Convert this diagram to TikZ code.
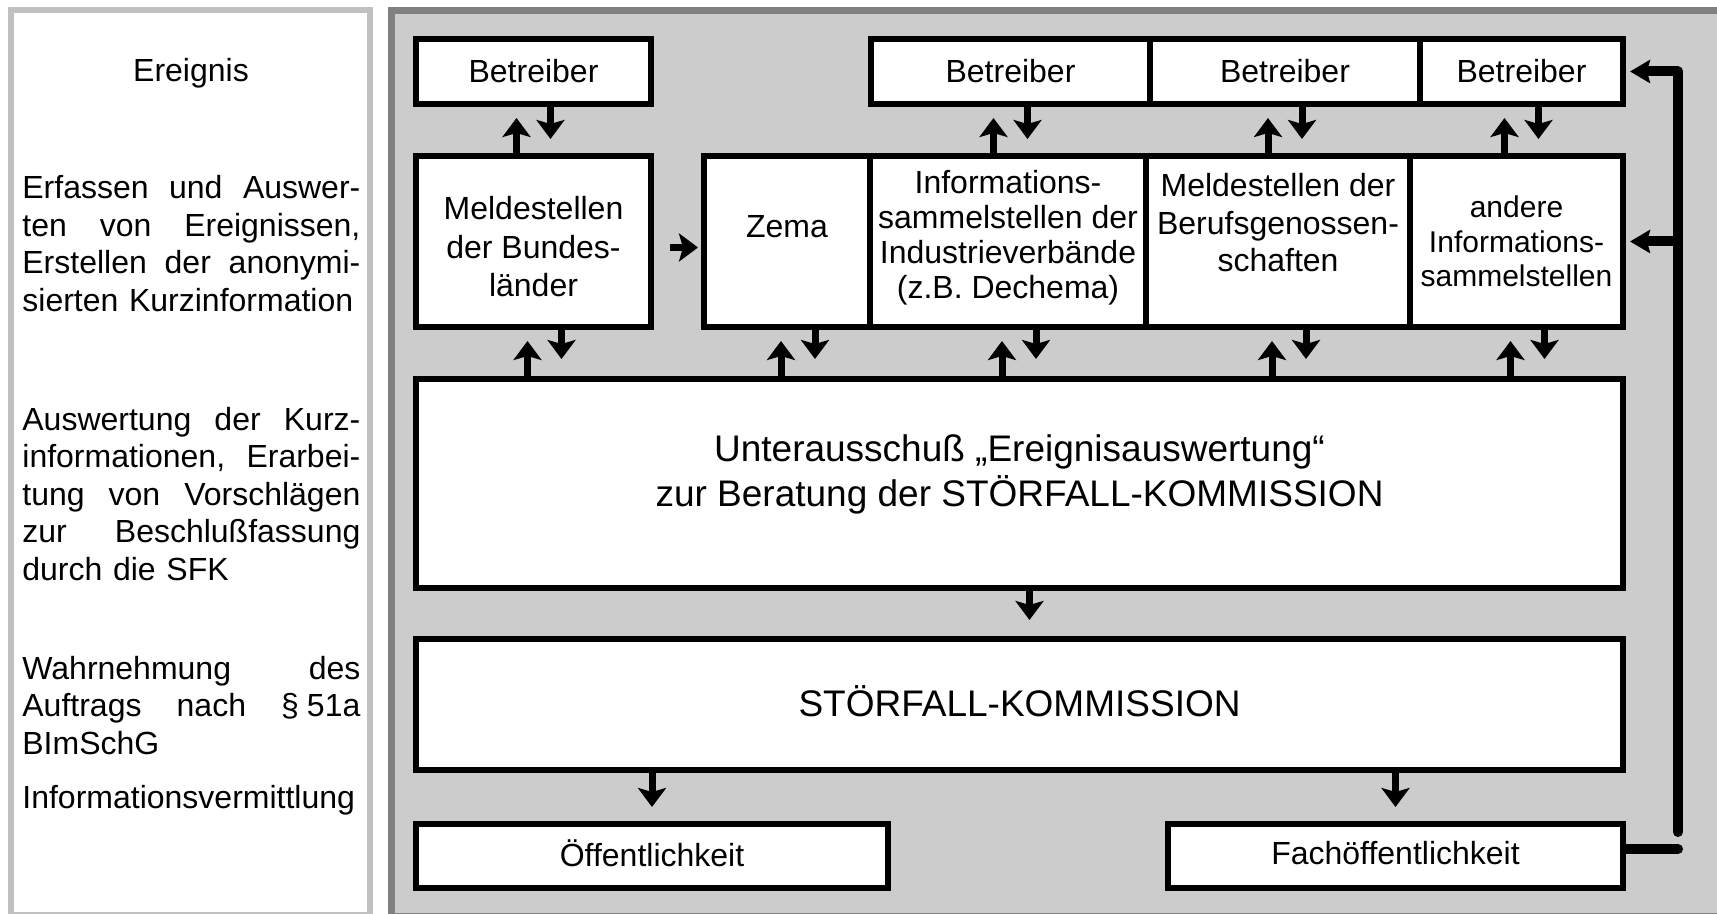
\documentclass[tikz,border=0pt]{standalone}
\usepackage{fontspec}
\setmainfont{Liberation Sans}
\usepackage{tikz}
\usetikzlibrary{calc,positioning,arrows.meta}
\definecolor{feld}{HTML}{CCCCCC}
\definecolor{rahmen}{HTML}{808080}
\definecolor{randhell}{HTML}{C0C0C0}
\newlength\spalte
\setlength\spalte{169pt}
\newcommand\zeile[1]{\leavevmode\hbox to\spalte{#1}}
\tikzset{
	kasten/.style={draw,line width=3pt,fill=white,inner sep=0pt,align=center,font=\fontsize{16pt}{18.75pt}\selectfont},
	gross/.style={font=\fontsize{18.5pt}{22.5pt}\selectfont},
	links/.style={anchor=base west,inner sep=0pt,text width=\spalte,font=\fontsize{16pt}{18.75pt}\selectfont},
	pfeil/.style={line width=3.5pt,-{Stealth[length=9.5pt,width=14pt,inset=2pt]}},
	rueck/.style={line width=5pt,line cap=round,line join=round},
	rueckpfeil/.style={rueck,-{Stealth[length=10pt,width=11.5pt,inset=1.5pt]}}
}
\begin{document}
\begin{tikzpicture}[x=0.5pt,y=-0.5pt]
		\useasboundingbox (0,0) rectangle (1717,914);
		\draw[line width=3pt,draw=randhell,fill=white] (11,10) rectangle (370,915);
		\draw[line width=3.5pt,draw=rahmen,fill=feld] (391.5,11) rectangle (1740,916);
		\node(ereignis) [anchor=base,inner sep=0pt,font=\fontsize{16pt}{18.75pt}\selectfont] at (191,82) {Ereignis};
		\node(erfassen) [links] at (22,199) {\zeile{Erfassen\hfill und\hfill Auswer-}\\\zeile{ten\hfill von\hfill Ereignissen,}\\\zeile{Erstellen\hfill der\hfill anonymi-}\\sierten Kurzinformation};
		\node(auswertung) [links] at (22,430) {\zeile{Auswertung\hfill der\hfill Kurz-}\\\zeile{informationen,\hfill Erarbei-}\\\zeile{tung\hfill von\hfill Vorschlägen}\\\zeile{zur\hfill Beschlußfassung}\\durch die SFK};
		\node(auftrag) [links] at (22,679) {\zeile{Wahrnehmung\hfill des}\\\zeile{Auftrags\hfill nach\hfill §\kern4pt 51a}\\BImSchG};
		\node(vermittlung) [links] at (22,808) {Informationsvermittlung};
		\node(b1) [kasten,minimum width=117.5pt,minimum height=32.5pt] at (533.5,71.5) {Betreiber};
		\node(b2) [kasten,minimum width=139.5pt,minimum height=32.5pt] at (1010.5,71.5) {Betreiber};
		\node(b3) [kasten,minimum width=135pt,minimum height=32.5pt] at (1285,71.5) {Betreiber};
		\node(b4) [kasten,minimum width=101.5pt,minimum height=32.5pt] at (1521.5,71.5) {Betreiber};
		\node(m1) [kasten,minimum width=117.5pt,minimum height=85.5pt,font=\fontsize{16pt}{19.2pt}\selectfont] at (533.5,241.5) {\mbox{}\\[-2.5pt]Meldestellen\\der Bundes-\\länder};
		\node(zema) [kasten,minimum width=83pt,minimum height=85.5pt] at (787,241.5) {Zema\\[-4pt]\mbox{}};
		\node(isv) [kasten,minimum width=138pt,minimum height=85.5pt,font=\fontsize{16pt}{17.5pt}\selectfont] at (1008,241.5) {Informations-\\sammelstellen der\\Industrieverbände\\(z.B. Dechema)\\[-10pt]\mbox{}};
		\node(bg) [kasten,minimum width=132pt,minimum height=85.5pt] at (1278,241.5) {Meldestellen der\\Berufsgenossen-\\schaften\\\mbox{}};
		\node(andere) [kasten,minimum width=106.5pt,minimum height=85.5pt,font=\fontsize{15pt}{17.25pt}\selectfont] at (1516.5,241.5) {andere\\Informations-\\sammelstellen};
		\node(ua) [kasten,gross,minimum width=603.5pt,minimum height=104.5pt] at (1019.5,483.5) {Unterausschuß „Ereignisauswertung“\\zur Beratung der STÖRFALL-KOMMISSION\\[-10pt]\mbox{}};
		\node(sfk) [kasten,gross,minimum width=603.5pt,minimum height=65.5pt] at (1019.5,704.5) {STÖRFALL-KOMMISSION\\[-19pt]\mbox{}};
		\node(oeff) [kasten,minimum width=236pt,minimum height=32pt,text depth=3pt] at (652,856) {Öffentlichkeit};
		\node(fach) [kasten,minimum width=227.5pt,minimum height=32pt,text depth=3pt] at (1395.5,856) {Fachöffentlichkeit};
		\foreach \o/\u in {b1/m1,b2/isv,b3/bg,b4/andere}{
			\draw[pfeil] ($(\o.south |- \u.north)+(-17,0)$) -- ($(\o.south)+(-17,11)$);
			\draw[pfeil] ($(\o.south)+(17,0)$) -- ($(\o.south |- \u.north)+(17,-14)$);
		}
		\foreach \o in {m1,zema,isv,bg,andere}{
			\draw[pfeil] ($(\o.south |- ua.north)+(-6,0)$) -- ($(\o.south)+(-6,11)$);
			\draw[pfeil] ($(\o.south)+(28,0)$) -- ($(\o.south |- ua.north)+(28,-17)$);
		}
		\draw[pfeil] ([xshift=8pt,yshift=-3pt]m1.east) -- ([xshift=-1.5pt,yshift=-3pt]zema.west);
		\draw[pfeil] ([xshift=5pt]ua.south) -- ([xshift=5pt,yshift=8pt]sfk.north);
		\draw[pfeil] (sfk.south -| oeff.north) -- ([yshift=7pt]oeff.north);
		\draw[pfeil] (sfk.south -| fach.north) -- ([yshift=7pt]fach.north);
		\coordinate (rk) at (1678,849);
		\draw[rueck] ([yshift=3.5pt]fach.east) -- (rk);
		\draw[rueckpfeil] ([yshift=8.5pt]rk) |- ([xshift=2pt]b4.east);
		\draw[rueckpfeil] (andere.east -| rk) -- ([xshift=2pt]andere.east);
	\end{tikzpicture}
\end{document}
